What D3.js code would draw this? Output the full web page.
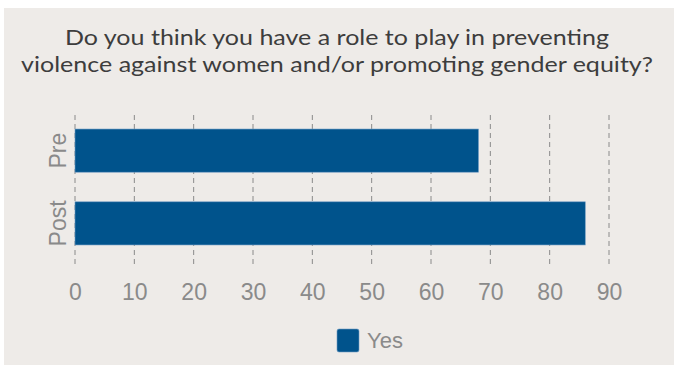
<!DOCTYPE html>
<html>
<head>
<meta charset="utf-8">
<script src="https://cdn.jsdelivr.net/npm/d3@7"></script>
<style>
  html, body { margin: 0; padding: 0; background: #ffffff; }
  svg { display: block; }
</style>
</head>
<body>
<div id="chart"></div>
<script>
// chart data
const categories = ["Pre", "Post"]
const yesValues = [68, 86]
const xTicks = [0, 10, 20, 30, 40, 50, 60, 70, 80, 90]
const titleLines = ["Do you think you have a role to play in preventing",
                    "violence against women and/or promoting gender equity?"]
const legendLabel = "Yes"

const width = 675
const height = 365

const svg = d3.select("#chart").append("svg")
    .attr("width", width)
    .attr("height", height)

// background panel
svg.append("rect")
    .attr("x", 4).attr("y", 8)
    .attr("width", 670).attr("height", 357)
    .style("fill", "#eeebe8")

// title, one text with a tspan per line
svg.append("text")
    .attr("text-anchor", "middle")
    .style("font-family", "Lato, sans-serif")
    .style("font-size", "22px")
    .style("fill", "#3d3d3d")
    .selectAll("tspan")
    .data(titleLines)
    .enter()
    .append("tspan")
        .attr("x", 337)
        .attr("y", function(d, i) { return 44.5 + i * 27 })
        .attr("textLength", function(d, i) { return i == 0 ? 544 : 632 })
        .attr("lengthAdjust", "spacingAndGlyphs")
        .text(function(d) { return d })

// scales
const x = d3.scaleLinear()
    .domain([0, 90])
    .range([75, 609])

const y = d3.scaleBand()
    .domain(categories)
    .range([121.75, 252.25])
    .paddingInner(0.407)
    .paddingOuter(0.1)

// dashed vertical gridlines
svg.append("g").selectAll("line")
    .data(xTicks)
    .enter()
    .append("line")
        .attr("x1", function(d) { return x(d) })
        .attr("x2", function(d) { return x(d) })
        .attr("y1", 115)
        .attr("y2", 267)
        .style("stroke", "#8a8a8a")
        .style("stroke-width", 1)
        .style("stroke-dasharray", "5,4")

// bars
svg.append("g").selectAll("rect")
    .data(categories)
    .enter()
    .append("rect")
        .attr("x", x(0))
        .attr("y", function(d) { return y(d) })
        .attr("width", function(d, i) { return x(yesValues[i]) - x(0) })
        .attr("height", y.bandwidth())
        .style("fill", "#00538c")
        .style("stroke", "#6f9cc4")
        .style("stroke-width", 0.6)

// x axis labels
const xAxis = svg.append("g")
    .attr("transform", "translate(0,300)")
    .call(d3.axisBottom(x).tickValues(xTicks).tickSize(0).tickPadding(0))
xAxis.select(".domain").remove()
xAxis.selectAll("text")
    .attr("y", 0)
    .attr("dy", 0)
    .style("font-family", "'Liberation Sans', Arial, sans-serif")
    .style("font-size", "23px")
    .style("fill", "#8a8a8a")

// y axis labels (rotated)
svg.append("g").selectAll("text")
    .data(categories)
    .enter()
    .append("text")
        .attr("transform", function(d) {
            return "translate(66," + (y(d) + y.bandwidth() / 2) + ") rotate(-90)"
        })
        .attr("text-anchor", "middle")
        .style("font-family", "'Liberation Sans', Arial, sans-serif")
        .style("font-size", "23px")
        .style("fill", "#8a8a8a")
        .text(function(d) { return d })

// legend
const legend = svg.append("g")
    .attr("transform", "translate(337,329)")
legend.append("rect")
    .attr("width", 22).attr("height", 23)
    .attr("rx", 2)
    .style("fill", "#00538c")
    .style("stroke", "#6f9cc4")
    .style("stroke-width", 0.6)
legend.append("text")
    .attr("x", 30)
    .attr("y", 19)
    .style("font-family", "'Liberation Sans', Arial, sans-serif")
    .style("font-size", "22px")
    .style("fill", "#8a8a8a")
    .text(legendLabel)
</script>
</body>
</html>
